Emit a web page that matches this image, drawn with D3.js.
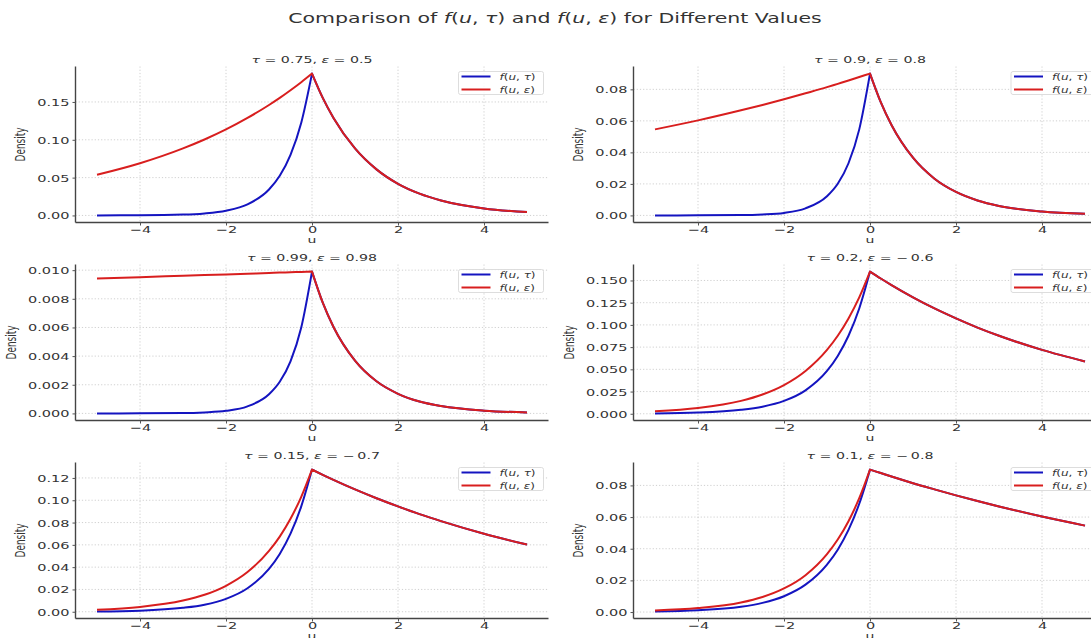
<!DOCTYPE html>
<html>
<head>
<meta charset="utf-8">
<script src="https://cdn.jsdelivr.net/npm/d3@7"></script>
<style>
  body { margin: 0; background: #fff; }
</style>
</head>
<body>
<div id="chart"></div>
<script>
// sample points along u
const uValues = [-5, -4, -3, -2.5, -2, -1.5, -1, -0.75, -0.5, -0.25, 0, 0.25, 0.5, 1, 1.5, 2, 2.5, 3, 4, 5];

const tauLabels = ["0.75", "0.9", "0.99", "0.2", "0.15", "0.1"];
const epsLabels = ["0.5", "0.8", "0.98", "\u2212\u20090.6", "\u2212\u20090.7", "\u2212\u20090.8"];

const xTicks = [-4, -2, 0, 2, 4];
const yTicks1 = [0, 0.05, 0.10, 0.15];
const yTicks2 = [0, 0.02, 0.04, 0.06, 0.08];
const yTicks3 = [0, 0.002, 0.004, 0.006, 0.008, 0.010];
const yTicks4 = [0, 0.025, 0.05, 0.075, 0.10, 0.125, 0.15];
const yTicks5 = [0, 0.02, 0.04, 0.06, 0.08, 0.10, 0.12];
const yTicks6 = [0, 0.02, 0.04, 0.06, 0.08];
const yDigits = [2, 2, 3, 3, 2, 2];

// f(u, tau) - blue
const fTau1 = [0.00004, 0.0002, 0.0011, 0.0027, 0.0063, 0.0146, 0.0343, 0.0524, 0.0801, 0.1226, 0.1875, 0.1554, 0.1289, 0.0886, 0.0609, 0.0418, 0.0288, 0.0198, 0.0093, 0.0044];
const fTau2 = [0.000004, 0.00003, 0.0002, 0.0006, 0.0016, 0.0045, 0.0122, 0.0201, 0.0331, 0.0546, 0.09, 0.0719, 0.0574, 0.0366, 0.0233, 0.0149, 0.0095, 0.0060, 0.0025, 0.0010];
const fTau3 = [0, 0.000003, 0.00002, 0.00007, 0.00018, 0.00049, 0.00134, 0.00221, 0.00364, 0.00600, 0.0099, 0.00773, 0.00603, 0.00368, 0.00224, 0.00137, 0.00083, 0.00051, 0.00019, 0.00007];
const fTau4 = [0.0004, 0.0013, 0.0044, 0.0080, 0.0145, 0.0264, 0.0482, 0.0651, 0.0878, 0.1185, 0.16, 0.1522, 0.1448, 0.1310, 0.1185, 0.1073, 0.0970, 0.0878, 0.0719, 0.0589];
const fTau5 = [0.0003, 0.0010, 0.0035, 0.0063, 0.0116, 0.0211, 0.0384, 0.0518, 0.0700, 0.0945, 0.1275, 0.1228, 0.1183, 0.1097, 0.1018, 0.0945, 0.0876, 0.0813, 0.0700, 0.0602];
const fTau6 = [0.0004, 0.0011, 0.0033, 0.0058, 0.0100, 0.0173, 0.0300, 0.0394, 0.0519, 0.0684, 0.09, 0.0878, 0.0856, 0.0814, 0.0775, 0.0737, 0.0701, 0.0667, 0.0603, 0.0546];

// f(u, eps) - red
const fEps1 = [0.0537, 0.0690, 0.0886, 0.1004, 0.1137, 0.1289, 0.1460, 0.1554, 0.1655, 0.1761, 0.1875, 0.1554, 0.1289, 0.0886, 0.0609, 0.0418, 0.0288, 0.0198, 0.0093, 0.0044];
const fEps2 = [0.0546, 0.0603, 0.0667, 0.0701, 0.0737, 0.0775, 0.0814, 0.0835, 0.0856, 0.0878, 0.09, 0.0719, 0.0574, 0.0366, 0.0233, 0.0149, 0.0095, 0.0060, 0.0025, 0.0010];
const fEps3 = [0.00942, 0.00951, 0.00961, 0.00966, 0.00970, 0.00975, 0.00980, 0.00983, 0.00985, 0.00988, 0.0099, 0.00773, 0.00603, 0.00368, 0.00224, 0.00137, 0.00083, 0.00051, 0.00019, 0.00007];
const fEps4 = [0.0029, 0.0065, 0.0145, 0.0217, 0.0323, 0.0482, 0.0719, 0.0878, 0.1073, 0.1310, 0.16, 0.1522, 0.1448, 0.1310, 0.1185, 0.1073, 0.0970, 0.0878, 0.0719, 0.0589];
const fEps5 = [0.0018, 0.0043, 0.0100, 0.0152, 0.0233, 0.0356, 0.0545, 0.0674, 0.0834, 0.1031, 0.1275, 0.1228, 0.1183, 0.1097, 0.1018, 0.0945, 0.0876, 0.0813, 0.0700, 0.0602];
const fEps6 = [0.0010, 0.0025, 0.0060, 0.0095, 0.0149, 0.0233, 0.0366, 0.0458, 0.0574, 0.0719, 0.09, 0.0878, 0.0856, 0.0814, 0.0775, 0.0737, 0.0701, 0.0667, 0.0603, 0.0546];

const blueSeries = [fTau1, fTau2, fTau3, fTau4, fTau5, fTau6];
const redSeries = [fEps1, fEps2, fEps3, fEps4, fEps5, fEps6];
const yTickSets = [yTicks1, yTicks2, yTicks3, yTicks4, yTicks5, yTicks6];

const width = 1091, height = 638;
const SY = 0.66;              // the picture is squashed vertically
const BlueColor = '#1414c0';
const RedColor = '#d81e1e';
const TextColor = '#333';
const colX = [75.5, 633.5], plotW = 473;
const legendX = [458.5, 1011];
const rowY = [66.5, 264.5, 462.5], plotH = 156;

const svg = d3.select("#chart").append("svg")
    .attr("width", width)
    .attr("height", height)
    .style("font-family", "'DejaVu Sans', sans-serif");

function mathLabel(text, parts) {
    // parts: [string, italic?]
    parts.forEach(p => {
        text.append("tspan")
            .attr("font-style", p[1] ? "italic" : null)
            .text(p[0]);
    });
}

const title = svg.append("text")
    .attr("transform", `translate(555,22.5) scale(1,${SY})`)
    .attr("text-anchor", "middle")
    .attr("font-size", 20.5)
    .attr("fill", TextColor);
mathLabel(title, [["Comparison of ", false], ["f", true], ["(", false], ["u", true], [", ", false], ["τ", true], [") and ", false],
    ["f", true], ["(", false], ["u", true], [", ", false], ["ε", true], [") for Different Values", false]]);

const minus = d => d < 0 ? "\u2212" + Math.abs(d) : "" + d;

function drawPanel(i) {
    const x0 = colX[i % 2], y0 = rowY[Math.floor(i / 2)];
    const blue = blueSeries[i], red = redSeries[i];
    const all = blue.concat(red);
    const lo = d3.min(all), hi = d3.max(all), pad = (hi - lo) * 0.05;

    const x = d3.scaleLinear().domain([-5.5, 5.5]).range([x0, x0 + plotW]);
    const y = d3.scaleLinear().domain([lo - pad, hi + pad]).range([y0 + plotH, y0]);
    const g = svg.append("g");

    // grid
    g.append("g").selectAll("line").data(xTicks).join("line")
        .attr("x1", d => x(d)).attr("x2", d => x(d))
        .attr("y1", y0).attr("y2", y0 + plotH)
        .attr("stroke", "#c4c4c4").attr("stroke-width", 0.8).attr("stroke-dasharray", "1.2,2");
    g.append("g").selectAll("line").data(yTickSets[i]).join("line")
        .attr("x1", x0).attr("x2", x0 + plotW)
        .attr("y1", d => y(d)).attr("y2", d => y(d))
        .attr("stroke", "#c4c4c4").attr("stroke-width", 0.8).attr("stroke-dasharray", "1.2,2");

    // curves, split at the cusp so the peak stays sharp
    const line = d3.line().x(d => x(d[0])).y(d => y(d[1])).curve(d3.curveMonotoneX);
    const zeroIdx = uValues.indexOf(0);
    const pathFor = vals => {
        const pts = uValues.map((u, k) => [u, vals[k]]);
        const left = line(pts.slice(0, zeroIdx + 1));
        const right = line(pts.slice(zeroIdx));
        return left + right.replace(/^M/, "L");
    };
    [[blue, BlueColor], [red, RedColor]].forEach(s => {
        g.append("path")
            .attr("d", pathFor(s[0]))
            .attr("fill", "none")
            .attr("stroke", s[1])
            .attr("stroke-width", 2)
            .attr("stroke-linejoin", "round");
    });

    // axes
    const xAxis = g.append("g")
        .attr("transform", `translate(0,${y0 + plotH})`)
        .call(d3.axisBottom(x).tickValues(xTicks).tickSize(3).tickSizeOuter(0).tickFormat(minus));
    xAxis.selectAll("text")
        .attr("y", null).attr("dy", null)
        .attr("transform", `translate(0,10.5) scale(1,${SY})`);

    const fmt = d3.format(`.${yDigits[i]}f`);
    const yAxis = g.append("g")
        .attr("transform", `translate(${x0},0)`)
        .call(d3.axisLeft(y).tickValues(yTickSets[i]).tickSize(3).tickSizeOuter(0).tickFormat(fmt));
    yAxis.selectAll("text")
        .attr("x", null).attr("dy", "0.36em")
        .attr("transform", `translate(-6,0) scale(1,${SY})`);

    [xAxis, yAxis].forEach(a => {
        a.attr("font-family", "'DejaVu Sans', sans-serif").attr("font-size", 14.5);
        a.selectAll("text").attr("fill", TextColor);
        a.selectAll(".tick line").attr("stroke", "#555");
        a.select(".domain").attr("stroke", "#444").attr("stroke-width", 1.4);
    });
    xAxis.select(".domain").attr("d", `M${x0},0H${x0 + plotW}`);
    yAxis.select(".domain").attr("d", `M0,${y0}V${y0 + plotH}`);

    // axis labels
    let labelW = 0;
    yAxis.selectAll("text").each(function () { labelW = Math.max(labelW, this.getComputedTextLength()); });
    g.append("text")
        .attr("transform", `translate(${x0 - 9 - labelW - 14},${y0 + plotH / 2}) scale(1,${SY}) rotate(-90)`)
        .attr("text-anchor", "middle")
        .attr("dy", "0.35em")
        .attr("font-size", 13.5)
        .attr("fill", TextColor)
        .text("Density");
    g.append("text")
        .attr("transform", `translate(${x(0)},${y0 + plotH + 20}) scale(1,${SY})`)
        .attr("text-anchor", "middle")
        .attr("font-size", 14)
        .attr("fill", TextColor)
        .text("u");

    // subplot title
    const t = g.append("text")
        .attr("transform", `translate(${x0 + plotW / 2},${y0 - 3.5}) scale(1,${SY})`)
        .attr("text-anchor", "middle")
        .attr("font-size", 14.2)
        .attr("fill", TextColor);
    mathLabel(t, [["τ", true], [" = " + tauLabels[i] + ", ", false], ["ε", true], [" = " + epsLabels[i], false]]);

    // legend
    const lx = legendX[i % 2], ly = y0 + 5;
    const leg = g.append("g");
    leg.append("rect")
        .attr("x", lx).attr("y", ly).attr("width", 85).attr("height", 23).attr("rx", 2)
        .attr("fill", "#fff").attr("fill-opacity", 0.85)
        .attr("stroke", "#d4d4d4").attr("stroke-width", 0.8);
    [["τ", BlueColor], ["ε", RedColor]].forEach((e, k) => {
        const yy = ly + 5 + k * 13;
        leg.append("line")
            .attr("x1", lx + 3).attr("x2", lx + 32)
            .attr("y1", yy).attr("y2", yy)
            .attr("stroke", e[1]).attr("stroke-width", 2);
        const lt = leg.append("text")
            .attr("transform", `translate(${lx + 41},${yy + 3}) scale(1,${SY})`)
            .attr("font-size", 12)
            .attr("fill", TextColor);
        mathLabel(lt, [["f", true], ["(", false], ["u", true], [", ", false], [e[0], true], [")", false]]);
    });
}

for (let i = 0; i < 6; i++) {
    drawPanel(i);
}
</script>
</body>
</html>
